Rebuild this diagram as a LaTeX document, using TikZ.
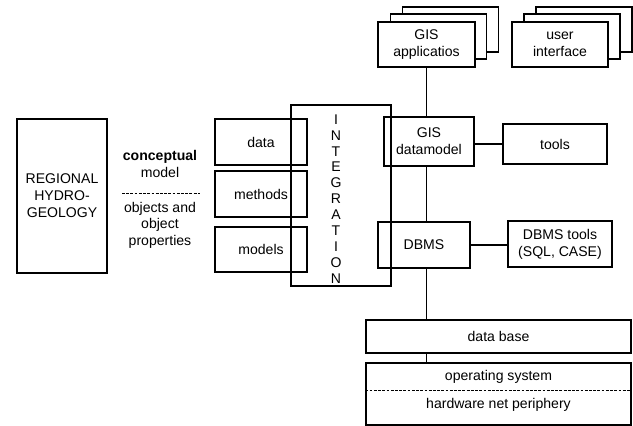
\documentclass[tikz,border=0pt]{standalone}
\usepackage{fontspec}
\setmainfont{Liberation Sans}
\usepackage{tikz}
\usetikzlibrary{positioning}
\tikzset{
    plain-box/.style = {draw=black, line width=0.9pt, rectangle, inner sep=0pt, align=center, font=\fontsize{12}{14.5}\selectfont},
    stack-box/.style = {plain-box, fill=white, minimum width=2.88cm, minimum height=1.35cm},
    plain-text/.style = {inner sep=0pt, align=center, font=\fontsize{12}{14}\selectfont},
    fine-dash/.style = {line width=0.6pt, dash pattern=on 2.4pt off 1.2pt},
}

\begin{document}
\begin{tikzpicture}[x=0.03cm, y=-0.03cm]
\useasboundingbox (0,0) rectangle (633,426);
% left part
\node [plain-box, minimum width=2.7cm, minimum height=4.62cm] (region) at (62,196) {REGIONAL\\HYDRO-\\GEOLOGY};
\node [plain-text] (concept) at (160,164) {\bfseries conceptual\\model};
\node [plain-text] (objects) at (160,225) {objects and\\object\\properties};
\draw [fine-dash] (122,193) -- (200,193);
\node [plain-box, minimum width=2.76cm, minimum height=1.38cm] (data) at (261,142) {data};
\node [plain-box, minimum width=2.76cm, minimum height=1.38cm] (methods) at (261,194) {methods};
\node [plain-box, minimum width=2.76cm, minimum height=1.35cm] (models) at (261,249.5) {models};
\node [plain-box, minimum width=3cm, minimum height=5.43cm] (integ) at (341,195.5) {};
\node [plain-text, font=\fontsize{12}{13.6}\selectfont] (integ-label) at (336,199) {I\\N\\T\\E\\G\\R\\A\\T\\I\\O\\N};
% stacked boxes
\foreach \dx/\dy in {24/-15, 12/-8}{
    \node [stack-box] at (426.5+\dx, 44.5+\dy) {};
    \node [stack-box] at (560+\dx, 44.5+\dy) {};
}
\node [stack-box, minimum width=2.91cm] (gisapp) at (426.5,44.5) {GIS\\applicatios};
\node [stack-box] (userif) at (560,44.5) {user\\interface};
% right part
\node [plain-box, minimum width=2.7cm, minimum height=1.47cm] (datamodel) at (429,141.5) {GIS\\datamodel};
\node [plain-box, minimum width=3.12cm, minimum height=1.2cm] (tools) at (555,144) {tools};
\node [plain-box, minimum width=2.76cm, minimum height=1.38cm] (dbms) at (424,245) {DBMS};
\node [plain-box, minimum width=3.12cm, minimum height=1.38cm] (dbmstools) at (560,244) {DBMS tools\\(SQL, CASE)};
\node [plain-box, minimum width=7.95cm, minimum height=0.99cm] (database) at (498.5,336.5) {data base};
\node [plain-box, minimum width=7.95cm, minimum height=1.86cm] (platform) at (498.5,394) {};
\node [plain-text] (opsys) at (498.5,377) {operating system};
\node [plain-text] (hardware) at (498.5,405) {hardware net periphery};
\draw [fine-dash] (platform.west |- 0,390) -- (platform.east |- 0,390);
% connections
\draw [line width=0.9pt] (gisapp.south) -- (gisapp.south |- datamodel.north);
\draw [line width=0.9pt] (tools.west -| datamodel.east) -- (tools.west);
\draw [line width=0.9pt] (datamodel.south -| gisapp.south) -- (dbms.north -| gisapp.south);
\draw [line width=0.9pt] (dbms.east) -- (dbms.east -| dbmstools.west);
\draw [line width=0.9pt] (dbms.south -| gisapp.south) -- (database.north -| gisapp.south);
\draw [line width=0.9pt] (database.south -| gisapp.south) -- (platform.north -| gisapp.south);
\end{tikzpicture}
\end{document}
